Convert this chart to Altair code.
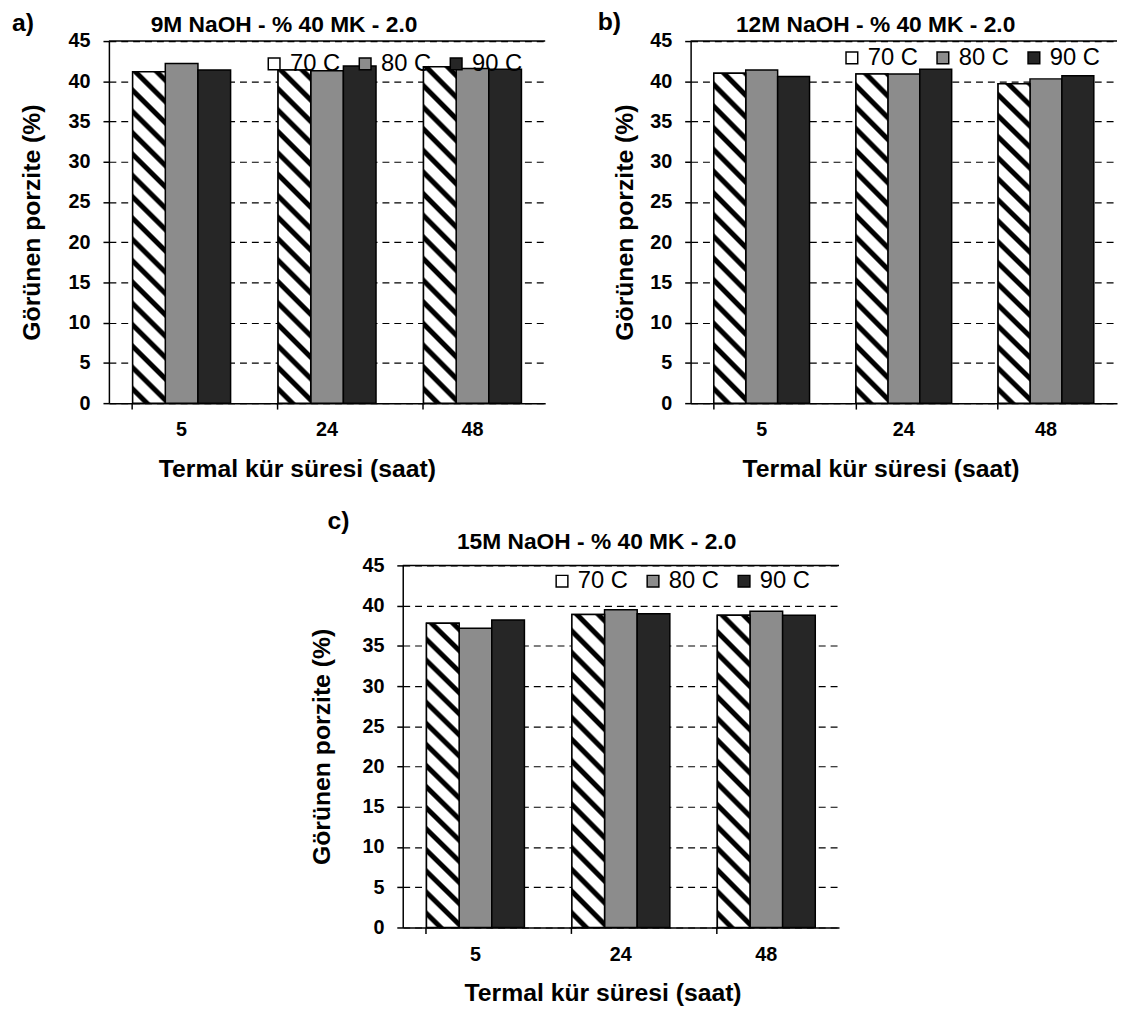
import altair as alt
import pandas as pd

categories = ["5", "24", "48"]
series = ["70 C", "80 C", "90 C"]

a_70 = [41.2, 41.4, 41.8]
a_80 = [42.2, 41.3, 41.6]
a_90 = [41.4, 41.9, 41.5]

b_70 = [41.0, 40.9, 39.7]
b_80 = [41.4, 40.9, 40.3]
b_90 = [40.6, 41.5, 40.7]

c_70 = [37.8, 38.9, 38.8]
c_80 = [37.2, 39.5, 39.3]
c_90 = [38.2, 39.0, 38.8]

panel_letters = ["a)", "b)", "c)"]
panel_titles = ["9M NaOH - % 40 MK - 2.0", "12M NaOH - % 40 MK - 2.0", "15M NaOH - % 40 MK - 2.0"]
x_title = "Termal kür süresi (saat)"
y_title = "Görünen porzite (%)"
y_ticks = list(range(0, 50, 5))

FONT = "Liberation Sans"
PLOT_H = 366
PAD_IN = 0.3265
PAD_OUT = PAD_IN / 2


def stripe_gradient(w, h0, period=21.7):
    """Diagonal stripe fill emulated with a linear gradient (style only)."""
    L = w + h0
    k = L / (w * w + h0 * h0)
    prof = [(0.0, "#ffffff"), (0.45, "#ffffff"), (0.55, "#000000"),
            (0.78, "#000000"), (0.88, "#ffffff")]
    stops = []
    n = int(L / period) + 1
    last = -1.0
    for i in range(n + 1):
        for f, c in prof:
            u = (i + f) * period
            if u <= L:
                off = round(u / L, 5)
                if off > last:
                    stops.append({"offset": off, "color": c})
                    last = off
    return {"gradient": "linear", "x1": 0, "y1": 1,
            "x2": round(k * w, 5), "y2": round(1 - k * h0, 5), "stops": stops}


def panel(v70, v80, v90, idx, width, cfg):
    rows = []
    for s, vals in zip(series, [v70, v80, v90]):
        for cat, v in zip(categories, vals):
            rows.append({"time": cat, "series": s, "value": v})
    df = pd.DataFrame(rows)

    step = width / 3
    bar_w = step * (1 - PAD_IN) / 3
    h0 = sum(v70) / len(v70) * PLOT_H / 45

    x = alt.X("time:N", sort=categories,
              scale=alt.Scale(domain=categories, paddingInner=PAD_IN, paddingOuter=PAD_OUT),
              axis=alt.Axis(title=x_title, bandPosition=0, labelAngle=0, tickSize=6,
                            grid=False, labelFontSize=20, labelFontWeight="bold",
                            labelPadding=11, titleFontSize=25, titleFontWeight="bold",
                            titleX=cfg["xt"], titleY=66, titleBaseline="middle",
                            titleAlign="center"))
    xo = alt.XOffset("series:N", scale=alt.Scale(domain=series, paddingInner=0, paddingOuter=0))
    y = alt.Y("value:Q", scale=alt.Scale(domain=[0, 45], nice=False),
              axis=alt.Axis(values=y_ticks, title=y_title, grid=True, gridDash=[7, 5],
                            gridColor="black", gridWidth=1.2, gridOpacity=1, tickSize=6,
                            labelFontSize=20, labelFontWeight="bold", labelPadding=13,
                            titleFontSize=25, titleFontWeight="bold", titleX=cfg["yt"],
                            titleY=PLOT_H / 2, titleBaseline="middle", titleAlign="center",
                            titleAngle=270))
    color = alt.Color("series:N",
                      scale=alt.Scale(domain=series, range=["#ffffff", "#8c8c8c", "#262626"]),
                      legend=alt.Legend(title=None, orient="none", legendX=cfg["lgx"],
                                        legendY=cfg["ly"],
                                        direction="horizontal", symbolType="square",
                                        symbolSize=140, symbolStrokeColor="black",
                                        symbolStrokeWidth=1.5, symbolOpacity=1,
                                        labelFontSize=24, labelFont=FONT, labelColor="black",
                                        columnPadding=13, labelOffset=4))

    bars = alt.Chart(df).mark_bar(stroke="black", strokeWidth=1.5, opacity=1).encode(
        x=x, xOffset=xo, y=y, color=color)
    bars70 = alt.Chart(df).transform_filter(alt.datum.series == series[0]).mark_bar(
        fill=stripe_gradient(bar_w, h0), stroke="black", strokeWidth=1.5).encode(
        x=alt.X("time:N", sort=categories), xOffset=alt.XOffset("series:N"), y="value:Q")

    one = pd.DataFrame({"t": [panel_letters[idx]], "title": [panel_titles[idx]]})
    top_rule = alt.Chart(one).mark_rule(color="black", strokeWidth=1.5).encode(y=alt.datum(45))
    letter = alt.Chart(one).mark_text(font=FONT, fontSize=25, fontWeight="bold", align="left",
                                      baseline="middle", color="black").encode(
        x=alt.value(cfg["lx"]), y=alt.value(cfg["lyy"]), text="t:N")
    title = alt.Chart(one).mark_text(font=FONT, fontSize=23, fontWeight="bold", align="center",
                                     baseline="middle", color="black").encode(
        x=alt.value(cfg["tx"]), y=alt.value(cfg["ty"]), text="title:N")
    return alt.layer(bars, bars70, top_rule, letter, title).properties(width=width, height=PLOT_H)


pa = panel(a_70, a_80, a_90, 0, 441,
           {"xt": 190, "yt": -78, "ly": 11, "lgx": 155, "lx": -98, "lyy": -18.5,
            "tx": 177, "ty": -16})
pb = panel(b_70, b_80, b_90, 1, 431,
           {"xt": 192, "yt": -67, "ly": 5, "lgx": 151, "lx": -94, "lyy": -19,
            "tx": 187, "ty": -16})
pc = panel(c_70, c_80, c_90, 2, 441,
           {"xt": 202, "yt": -82, "ly": 4, "lgx": 149, "lx": -76, "lyy": -45,
            "tx": 196, "ty": -23.5})

# invisible spacer that pushes panel c to the right (layout only)
SPACER_W = 200
spacer = alt.Chart(pd.DataFrame({"p": [0, SPACER_W]})).mark_text(
    text=".", opacity=0, fontSize=6, align="right").encode(
    x=alt.X("p:Q", scale=None, axis=None), y=alt.value(0)).properties(width=SPACER_W, height=10)

top = alt.hconcat(pa, pb, spacing=52).resolve_scale(
    color="independent", xOffset="independent").resolve_legend(color="independent")
bottom = alt.hconcat(spacer, pc, spacing=3).resolve_scale(
    color="independent", xOffset="independent").resolve_legend(color="independent")
chart = alt.vconcat(top, bottom, spacing=28).resolve_scale(
    color="independent", xOffset="independent").resolve_legend(color="independent").properties(
    padding={"left": 4, "top": -3, "right": 0, "bottom": 0}).configure_view(
    strokeWidth=0).configure_axis(
    labelFont=FONT, titleFont=FONT, labelColor="black", titleColor="black",
    domainColor="black", tickColor="black", domainWidth=1.5, tickWidth=1.5)

chart.save("out.html", embed_options={"renderer": "svg", "actions": False})
